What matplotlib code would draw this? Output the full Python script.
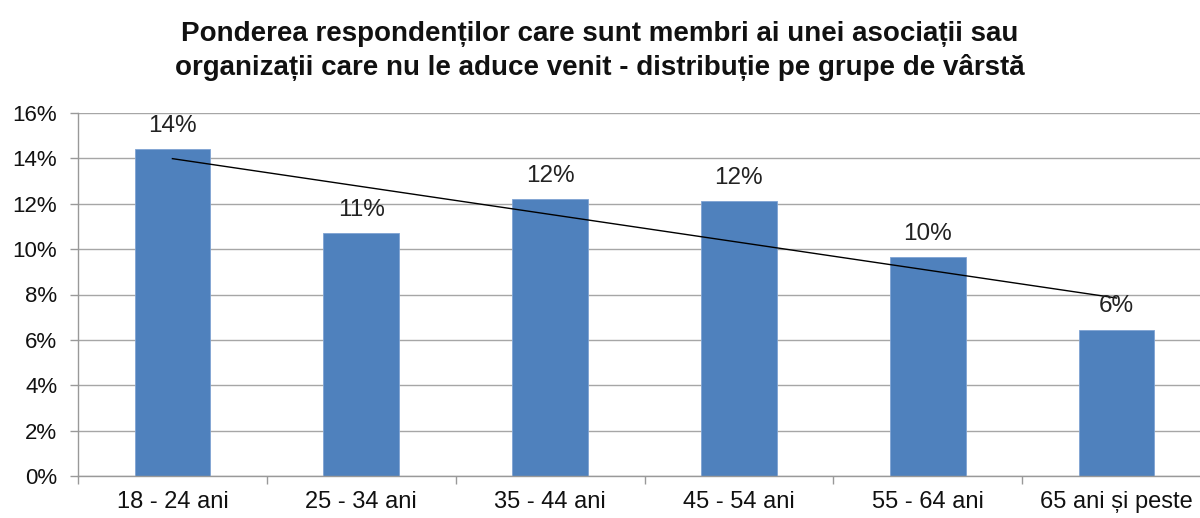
import matplotlib.pyplot as plt
import numpy as np
from matplotlib.ticker import FuncFormatter

# date
categories = ['18 - 24 ani', '25 - 34 ani', '35 - 44 ani', '45 - 54 ani', '55 - 64 ani', '65 ani și peste']
values = [14.4, 10.7, 12.2, 12.1, 9.65, 6.45]
labels = ['14%', '11%', '12%', '12%', '10%', '6%']
yticks = [0, 2, 4, 6, 8, 10, 12, 14, 16]

title = ('Ponderea respondenților care sunt membri ai unei asociații sau\n'
         'organizații care nu le aduce venit - distribuție pe grupe de vârstă')

plt.rcParams['font.family'] = ['Liberation Sans', 'DejaVu Sans']

fig = plt.figure(figsize=(12, 5.18), dpi=100)
# plot area: x from 78px to ~1211px, y from 113px (16%) to 476px (0%)
ax = fig.add_axes([78 / 1200, 1 - 476 / 518, (1211 - 78) / 1200, (476 - 113) / 518])

x = np.arange(len(categories))
ax.bar(x, values, width=0.4, color='#4F81BD', edgecolor='#7FA3D3', linewidth=0.6, zorder=2)

# linear trend line
coef = np.polyfit(x, values, 1)
ax.plot(x, np.polyval(coef, x), color='black', linewidth=1.0, zorder=3)

for xi, v, lab in zip(x, values, labels):
    ax.text(xi, v + 0.55, lab, ha='center', va='bottom', fontsize=17.5, color='#222222', zorder=4)

ax.set_xlim(-0.5, len(categories) - 0.5)
ax.set_ylim(0, 16)
ax.set_yticks(yticks)
ax.yaxis.set_major_formatter(FuncFormatter(lambda v, p: f'{int(v)}%'))
ax.grid(axis='y', color='#A6A6A6', linewidth=1.0, zorder=0)
ax.set_axisbelow(True)

ax.set_xticks(x)
ax.set_xticklabels(categories)
ax.set_xticks(np.arange(len(categories) + 1) - 0.5, minor=True)
ax.tick_params(axis='x', which='major', length=0, pad=11, labelsize=17, labelcolor='#111111')
ax.tick_params(axis='x', which='minor', length=6, color='#999999', width=1.0, direction='out')
ax.tick_params(axis='y', length=6, color='#999999', width=1.0, direction='out', labelsize=16, pad=9,
               labelcolor='#111111')

for s in ['top', 'right']:
    ax.spines[s].set_visible(False)
for s in ['left', 'bottom']:
    ax.spines[s].set_color('#999999')
    ax.spines[s].set_linewidth(1.0)

fig.text(0.5, 1 - 51 / 518, title, ha='center', va='center', fontsize=20, fontweight='bold',
         linespacing=1.3, color='#111111')

plt.savefig('out.png', dpi=100)
